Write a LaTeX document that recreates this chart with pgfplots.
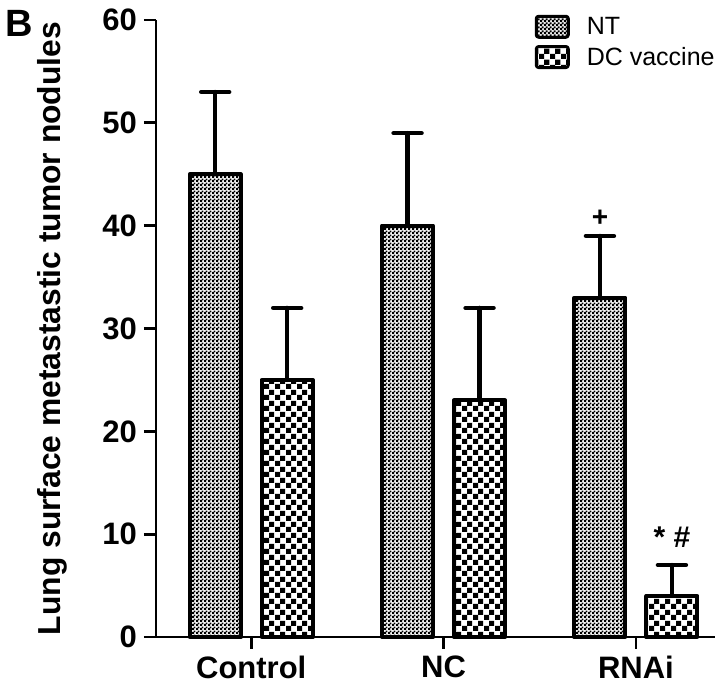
\documentclass[border=0pt]{standalone}
\usepackage{fontspec}
\setmainfont{Liberation Sans}
\usepackage{pgfplots}
\pgfplotsset{compat=1.18}
\usetikzlibrary{patterns}

\pgfdeclarepatternformonly{finecheck}{\pgfqpoint{0pt}{0pt}}{\pgfqpoint{2pt}{2pt}}{\pgfqpoint{2pt}{2pt}}{%
  \pgfpathrectangle{\pgfqpoint{0pt}{0pt}}{\pgfqpoint{1.15pt}{1.15pt}}%
  \pgfpathrectangle{\pgfqpoint{1pt}{1pt}}{\pgfqpoint{1.15pt}{1.15pt}}%
  \pgfpathrectangle{\pgfqpoint{1pt}{-1pt}}{\pgfqpoint{1.15pt}{1.15pt}}%
  \pgfpathrectangle{\pgfqpoint{-1pt}{1pt}}{\pgfqpoint{1.15pt}{1.15pt}}%
  \pgfusepath{fill}}
\pgfdeclarepatternformonly{coarsecheck}{\pgfqpoint{0pt}{0pt}}{\pgfqpoint{5.5pt}{5.5pt}}{\pgfqpoint{5.5pt}{5.5pt}}{%
  \pgfpathrectangle{\pgfqpoint{0pt}{0pt}}{\pgfqpoint{2.75pt}{2.75pt}}%
  \pgfpathrectangle{\pgfqpoint{2.75pt}{2.75pt}}{\pgfqpoint{2.75pt}{2.75pt}}%
  \pgfusepath{fill}}

\pgfplotstableread{
x  nt  ntErr  dc  dcErr
0  45  8      25  7
1  40  9      23  9
2  33  6      4   3
}\datatable

\newcommand{\legstrut}{\rule[-3.6pt]{0pt}{13.25pt}}
\pgfplotsset{
  boxlegend/.style={legend image code/.code={%
    \draw[##1, line width=1.5pt, rounded corners=1.2pt] (0pt,-5.25pt) rectangle (16pt,5.25pt);}},
}

\begin{document}
\begin{tikzpicture}
\useasboundingbox (-78pt,-24.5pt) rectangle (284pt,318.5pt);
\begin{axis}[
  scale only axis,
  width=279.5pt, height=308.5pt,
  xmin=-0.495, xmax=2.411,
  ymin=0, ymax=60,
  ytick={0,10,...,60},
  xtick={0,1,2},
  xticklabels={Control,NC,RNAi},
  axis x line*=bottom,
  axis y line*=left,
  axis line style={line width=1.4pt,-},
  tick style={line width=1.4pt,black},
  tick align=outside,
  major tick length=6pt,
  /pgf/number format/assume math mode=true,
  ticklabel style={font=\bfseries\fontsize{15.5}{18}\selectfont},
  ylabel={Lung surface metastastic tumor nodules},
  ylabel style={font=\bfseries\fontsize{15.9}{18}\selectfont, at={(axis description cs:-0.185,0.5)}, anchor=center},
  ybar,
  bar width=25.5pt,
  clip=false,
  legend style={at={(1,1)}, anchor=north east, yshift=5.4pt, xshift=3pt, draw=none, fill=none,
    font=\fontsize{12.5}{15}\selectfont, inner sep=1pt,
    /tikz/every odd column/.append style={column sep=6.5pt}},
  legend cell align=left,
]
\addplot[draw=black, line width=2pt, line join=round, pattern=finecheck, bar shift=-18pt, boxlegend,
  error bars/.cd, y dir=plus, y explicit,
  error bar style={line width=2.2pt, black, line cap=round},
  error mark options={rotate=90, mark size=7pt, line width=2.2pt, line cap=round, black}]
  table[x=x, y=nt, y error=ntErr] {\datatable};
\addplot[draw=black, line width=2pt, line join=round, pattern=coarsecheck, bar shift=18pt, boxlegend,
  error bars/.cd, y dir=plus, y explicit,
  error bar style={line width=2.2pt, black, line cap=round},
  error mark options={rotate=90, mark size=7pt, line width=2.2pt, line cap=round, black}]
  table[x=x, y=dc, y error=dcErr] {\datatable};
\legend{\legstrut NT, \legstrut DC vaccine}
\node[font=\bfseries\fontsize{14}{16}\selectfont, xshift=-18pt] at (axis cs:2,40.7) {+};
\node[font=\bfseries\fontsize{15}{18}\selectfont, xshift=18pt] at (axis cs:2,9.7) {* \#};
\node[font=\bfseries\fontsize{19}{22}\selectfont] at (axis description cs:-0.245,0.995) {B};
\end{axis}
\end{tikzpicture}
\end{document}
